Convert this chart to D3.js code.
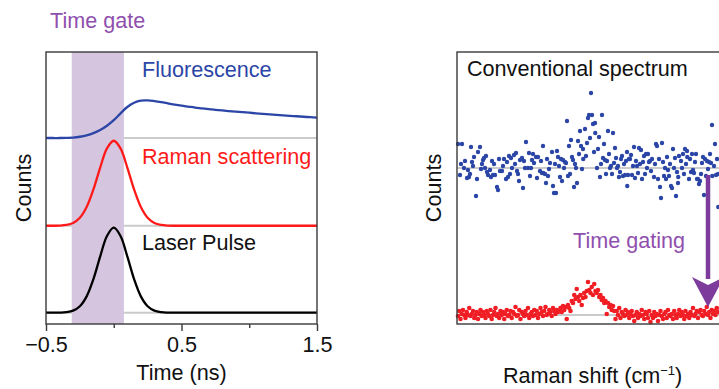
<!DOCTYPE html>
<html><head><meta charset="utf-8">
<script src="https://cdn.jsdelivr.net/npm/d3@7"></script>
<style>
body{margin:0;background:#fff}
svg{display:block}
text{font-family:"Liberation Sans",Arial,Helvetica,sans-serif}
</style>
</head><body>
<svg id="c" width="719" height="389"></svg>
<script>
// ---------- Left panel data ----------
const timeNs = [-0.5,-0.45,-0.4,-0.35,-0.3,-0.25,-0.2,-0.15,-0.1,-0.05,0,0.05,0.1,0.15,0.2,0.25,0.3,0.35,0.4,0.45,0.5,0.55,0.6,0.65,0.7,0.75,0.8,0.85,0.9,0.95,1.0,1.05,1.1,1.15,1.2,1.25,1.3,1.35,1.4,1.45,1.5];
const laserPulse = [0,0,0.001,0.006,0.024,0.076,0.192,0.395,0.662,0.902,1,0.902,0.662,0.395,0.192,0.076,0.024,0.006,0.001,0,0,0,0,0,0,0,0,0,0,0,0,0,0,0,0,0,0,0,0,0,0];
const ramanScattering = [0,0,0.002,0.01,0.033,0.094,0.22,0.427,0.685,0.91,1,0.91,0.685,0.427,0.22,0.094,0.033,0.01,0.002,0,0,0,0,0,0,0,0,0,0,0,0,0,0,0,0,0,0,0,0,0,0];
const fluorescence = [0,0,0,0.002,0.005,0.015,0.032,0.058,0.095,0.145,0.21,0.29,0.365,0.415,0.44,0.443,0.435,0.423,0.408,0.393,0.38,0.369,0.358,0.349,0.34,0.332,0.324,0.317,0.31,0.304,0.298,0.291,0.285,0.279,0.273,0.267,0.261,0.256,0.25,0.245,0.239];
const traceNames = ["Laser Pulse","Raman scattering","Fluorescence"];
const traceBaselines = [0.133, 1.156, 2.188];
const timeGate = [-0.31, 0.075];
const timeTicksMajor = [-0.5, 0.5, 1.5];
const timeTicksMinor = [0, 1.0];

// ---------- Right panel data (Raman shift cm^-1, counts) ----------
const conventionalSpectrum = [[604,180],[612,149],[620,180],[628,156],[640,146],[644,154],[648,147],[656,177],[660,162],[668,167],[676,128],[684,172],[692,177],[696,155],[704,164],[708,166],[712,156],[720,152],[724,149],[732,154],[740,163],[744,149],[752,149],[760,137],[764,134],[772,153],[780,153],[788,165],[800,162],[804,147],[808,168],[816,166],[820,156],[828,169],[836,171],[840,153],[844,150],[852,164],[860,166],[864,136],[872,156],[876,182],[884,156],[888,171],[896,156],[900,164],[908,161],[916,167],[924,167],[932,153],[940,151],[944,178],[945,151],[952,150],[956,141],[960,165],[968,155],[980,172],[984,138],[988,131],[996,131],[1000,173],[1004,167],[1012,147],[1020,143],[1024,164],[1028,156],[1032,162],[1036,161],[1040,203],[1044,148],[1048,178],[1056,184],[1060,167],[1064,164],[1068,137],[1076,156],[1080,141],[1084,183],[1092,193],[1096,178],[1104,175],[1105,165],[1112,195],[1120,181],[1124,206],[1128,209],[1136,231],[1140,209],[1144,200],[1152,201],[1153,191],[1160,156],[1168,187],[1172,147],[1180,209],[1184,166],[1192,164],[1200,163],[1204,193],[1212,156],[1216,158],[1224,191],[1228,161],[1232,176],[1240,156],[1244,158],[1248,147],[1256,165],[1260,168],[1264,148],[1272,149],[1280,172],[1281,138],[1284,149],[1288,165],[1292,165],[1296,169],[1300,149],[1308,177],[1316,163],[1320,158],[1324,151],[1328,176],[1336,174],[1340,145],[1344,162],[1348,168],[1356,170],[1360,156],[1364,170],[1368,162],[1372,163],[1376,153],[1388,147],[1396,180],[1400,178],[1404,145],[1412,137],[1416,126],[1420,181],[1428,148],[1432,156],[1440,167],[1444,154],[1448,148],[1456,138],[1460,136],[1464,175],[1468,156],[1476,128],[1484,141],[1485,147],[1496,163],[1500,156],[1504,170],[1512,175],[1520,173],[1521,167],[1528,145],[1536,152],[1540,170],[1544,154],[1548,151],[1560,145],[1564,145],[1568,140],[1572,143],[1580,161],[1584,167],[1588,129],[1592,165],[1600,163],[1604,155],[1608,162],[1616,161],[1620,199],[1621,148],[1632,180],[1636,149],[1644,150],[1645,117],
[616,160],[632,163],[652,150],[664,158],[680,145],[700,160],[716,168],[736,147],[748,160],[768,165],[784,158],[796,145],[812,150],[832,160],[848,143],[868,163],[892,148],[904,170],[920,146],[936,163],[964,148],[972,161],[992,160],[1008,158],[1016,165],[1052,150],[1072,160],[1088,170],[1100,155],[1116,168],[1132,186],[1148,172],[1164,175],[1176,160],[1188,180],[1196,150],[1208,170],[1220,150],[1236,166],[1252,152],[1268,160],[1276,163],[1304,158],[1312,146],[1332,160],[1352,150],[1380,165],[1392,160],[1408,165],[1424,162],[1436,145],[1452,160],[1472,166],[1480,152],[1488,168],[1508,150],[1516,160],[1532,165],[1552,162],[1556,170],[1576,150],[1596,148],[1612,170],[1628,158],[1640,165]];
const timeGatedSpectrum = [[604,8],[609,13],[614,5],[619,10],[624,14],[629,9],[634,6],[639,12],[644,9],[649,16],[654,8],[659,10],[664,13],[669,6],[674,9],[679,12],[684,5],[689,10],[694,14],[699,8],[704,12],[709,9],[714,6],[719,13],[724,10],[729,8],[734,14],[739,5],[744,9],[749,12],[754,16],[759,8],[764,10],[769,6],[774,13],[779,9],[784,12],[789,5],[794,10],[799,14],[804,8],[809,9],[814,13],[819,6],[824,12],[829,10],[834,17],[839,8],[844,9],[849,14],[854,5],[859,12],[864,10],[869,8],[874,13],[879,9],[884,16],[889,6],[894,10],[899,12],[904,8],[909,14],[914,9],[919,13],[924,6],[929,10],[934,16],[939,12],[944,8],[949,13],[954,17],[959,9],[964,10],[969,14],[974,12],[979,8],[984,16],[989,13],[994,10],[999,14],[1004,12],[1009,13],[1014,16],[1019,12],[1024,18],[1029,14],[1034,17],[1039,5],[1044,19],[1049,16],[1054,13],[1059,23],[1064,21],[1069,29],[1074,25],[1079,35],[1084,27],[1089,23],[1094,29],[1099,19],[1104,26],[1109,31],[1114,27],[1119,33],[1124,42],[1129,34],[1134,31],[1139,37],[1144,29],[1149,40],[1154,33],[1159,31],[1164,34],[1169,27],[1174,29],[1179,24],[1184,26],[1189,21],[1194,23],[1199,10],[1204,21],[1209,17],[1214,19],[1219,14],[1224,18],[1229,13],[1234,5],[1239,13],[1244,9],[1249,16],[1254,6],[1259,12],[1264,10],[1269,8],[1274,14],[1279,9],[1284,12],[1289,6],[1294,10],[1299,13],[1304,8],[1309,3],[1314,9],[1319,12],[1324,6],[1329,10],[1334,8],[1339,14],[1344,9],[1349,5],[1354,12],[1359,10],[1364,6],[1369,13],[1374,2],[1379,9],[1384,6],[1389,12],[1394,8],[1399,10],[1404,3],[1409,9],[1414,13],[1419,8],[1424,5],[1429,10],[1434,12],[1439,6],[1444,14],[1449,9],[1454,8],[1459,10],[1464,5],[1469,13],[1474,9],[1479,6],[1484,10],[1489,14],[1494,8],[1499,12],[1504,9],[1509,5],[1514,13],[1519,8],[1524,10],[1529,6],[1534,12],[1539,9],[1544,16],[1549,8],[1554,10],[1559,13],[1564,6],[1569,12],[1574,14],[1579,9],[1584,8],[1589,13],[1594,10],[1599,17],[1604,9],[1609,12],[1614,6],[1619,14],[1624,10],[1629,13],[1634,9],[1639,16],[1644,12]];
const spectrumBaselines = [156, 9];
const gatingArrow = {shift: 1604, from: 149, to: 17, headStart: 47};

// ---------- Drawing ----------
const svg = d3.select("#c");
const FS = 21.6;
const frameColor = "#3a3a3a";
const blue = "#2b46a6", red = "#f01e24", purple = "#8f4fae", bandColor = "#d6c5df", grayLine = "#cbcbcb";

// Left panel scales
const L = {x0: 46, x1: 317, y0: 52, y1: 324};
const xT = d3.scaleLinear().domain([-0.5, 1.5]).range([L.x0, L.x1]);
const yT = d3.scaleLinear().domain([0, 3.2]).range([L.y1, L.y0]);
const gL = svg.append("g");

gL.selectAll("line.base").data(traceBaselines).join("line")
  .attr("x1", xT(-0.5)).attr("x2", xT(1.5))
  .attr("y1", d => yT(d)).attr("y2", d => yT(d))
  .attr("stroke", grayLine).attr("stroke-width", 2);
gL.append("rect").attr("x", xT(timeGate[0])).attr("width", xT(timeGate[1]) - xT(timeGate[0]))
  .attr("y", L.y0).attr("height", L.y1 - L.y0).attr("fill", bandColor);

const traces = [
  {vals: laserPulse, base: traceBaselines[0], color: "#000"},
  {vals: ramanScattering, base: traceBaselines[1], color: "#ff1a1a"},
  {vals: fluorescence, base: traceBaselines[2], color: blue}
];
const lineGen = d3.line().curve(d3.curveCatmullRom.alpha(0.5));
traces.forEach(t => {
  gL.append("path")
    .attr("d", lineGen(timeNs.map((tt, i) => [xT(tt), yT(t.base + t.vals[i])])))
    .attr("fill", "none").attr("stroke", t.color).attr("stroke-width", 2.3);
});
gL.append("rect").attr("x", L.x0).attr("y", L.y0).attr("width", L.x1 - L.x0).attr("height", L.y1 - L.y0)
  .attr("fill", "none").attr("stroke", frameColor).attr("stroke-width", 1.4);
const fmt = d => (d < 0 ? "\u2212" : "") + Math.abs(d).toFixed(1);
const axMaj = gL.append("g").attr("transform", `translate(0,${L.y1})`)
  .call(d3.axisBottom(xT).tickValues(timeTicksMajor).tickSize(7).tickSizeOuter(0).tickFormat(fmt).tickPadding(6));
axMaj.select(".domain").remove();
axMaj.selectAll("line").attr("stroke", frameColor).attr("stroke-width", 1.4);
axMaj.selectAll("text").attr("font-size", FS).attr("fill", "#111").attr("font-family", "Liberation Sans, Arial, sans-serif");
const axMin = gL.append("g").attr("transform", `translate(0,${L.y1})`)
  .call(d3.axisBottom(xT).tickValues(timeTicksMinor).tickSize(4).tickSizeOuter(0).tickFormat(""));
axMin.select(".domain").remove();
axMin.selectAll("line").attr("stroke", frameColor).attr("stroke-width", 1.4);

gL.append("text").attr("x", 142).attr("y", 77).attr("font-size", FS).attr("fill", blue).text(traceNames[2]);
gL.append("text").attr("x", 142).attr("y", 164).attr("font-size", FS).attr("fill", "#ff1a1a").text(traceNames[1]);
gL.append("text").attr("x", 142).attr("y", 250).attr("font-size", FS).attr("fill", "#111").text(traceNames[0]);
svg.append("text").attr("x", 50).attr("y", 28).attr("font-size", FS).attr("fill", purple).text("Time gate");
svg.append("text").attr("x", (L.x0 + L.x1) / 2).attr("y", 380).attr("text-anchor", "middle")
  .attr("font-size", FS).attr("fill", "#111").text("Time (ns)");
svg.append("text").attr("transform", `translate(31,${(L.y0 + L.y1) / 2}) rotate(-90)`).attr("text-anchor", "middle")
  .attr("font-size", FS).attr("fill", "#111").text("Counts");

// Right panel
const R = {x0: 457, x1: 775, y0: 52, y1: 324};
const xR = d3.scaleLinear().domain([600, 1872]).range([R.x0, R.x1]);
const yR = d3.scaleLinear().domain([0, 272]).range([R.y1, R.y0]);
const gR = svg.append("g");
gR.selectAll("line.sb").data(spectrumBaselines).join("line")
  .attr("x1", R.x0).attr("x2", R.x1)
  .attr("y1", d => yR(d)).attr("y2", d => yR(d))
  .attr("stroke", grayLine).attr("stroke-width", 2);
gR.selectAll("circle.b").data(conventionalSpectrum).join("circle")
  .attr("cx", d => xR(d[0])).attr("cy", d => yR(d[1])).attr("r", 2.2).attr("fill", blue);
gR.selectAll("circle.r").data(timeGatedSpectrum).join("circle")
  .attr("cx", d => xR(d[0])).attr("cy", d => yR(d[1])).attr("r", 2.3).attr("fill", red);
gR.append("rect").attr("x", R.x0).attr("y", R.y0).attr("width", R.x1 - R.x0).attr("height", R.y1 - R.y0)
  .attr("fill", "none").attr("stroke", frameColor).attr("stroke-width", 1.4);

const ax = xR(gatingArrow.shift);
gR.append("line").attr("x1", ax).attr("x2", ax).attr("y1", yR(gatingArrow.from)).attr("y2", yR(gatingArrow.headStart) + 2)
  .attr("stroke", "#7d3b9c").attr("stroke-width", 4.5);
gR.append("path")
  .attr("d", `M${ax - 16},${yR(gatingArrow.headStart)} L${ax},${yR(gatingArrow.headStart) + 8} L${ax + 16},${yR(gatingArrow.headStart)} L${ax},${yR(gatingArrow.to)} Z`)
  .attr("fill", "#7d3b9c");

gR.append("text").attr("x", 467).attr("y", 76).attr("font-size", FS).attr("fill", "#111").text("Conventional spectrum");
gR.append("text").attr("x", 573).attr("y", 248).attr("font-size", FS).attr("fill", purple).text("Time gating");
svg.append("text").attr("transform", `translate(441,${(R.y0 + R.y1) / 2}) rotate(-90)`).attr("text-anchor", "middle")
  .attr("font-size", FS).attr("fill", "#111").text("Counts");
const rx = svg.append("text").attr("x", 503).attr("y", 383).attr("font-size", FS).attr("fill", "#111");
rx.append("tspan").text("Raman shift (cm");
rx.append("tspan").attr("dy", -8).attr("font-size", 13).text("\u22121");
rx.append("tspan").attr("dy", 8).text(")");
</script>
</body></html>
